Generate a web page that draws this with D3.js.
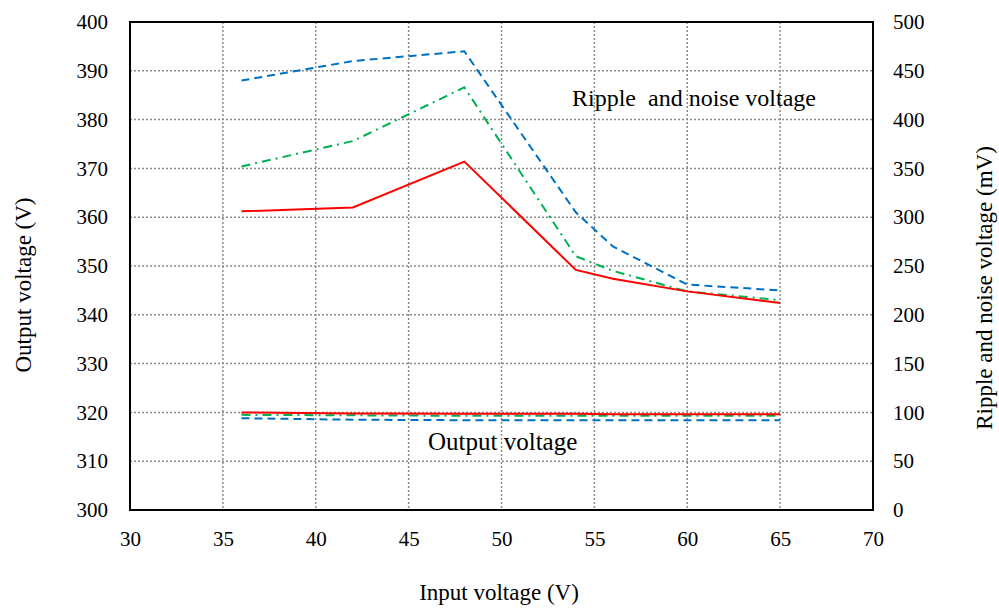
<!DOCTYPE html>
<html>
<head>
<meta charset="utf-8">
<script src="https://cdn.jsdelivr.net/npm/d3@7"></script>
<style>
  html, body { margin: 0; padding: 0; background: #fff; }
  svg { display: block; }
  svg text { font-family: "Liberation Serif", "Times New Roman", serif !important; fill: #000; }
</style>
</head>
<body>
<svg id="chart" width="999" height="608"></svg>
<script>
// Input voltage (V) measurement points
const inputVoltage = [36, 42, 48, 54, 56, 60, 65];

// Ripple and noise voltage (mV), right axis
const rippleRed   = [306, 310, 357, 246, 237, 224, 212];
const rippleGreen = [352, 378, 433, 260, 245, 224, 215];
const rippleBlue  = [440, 460, 470, 305, 270, 231, 225];

// Output voltage (V), left axis
const outRed   = [320.0, 319.8, 319.7, 319.7, 319.6, 319.6, 319.6];
const outGreen = [319.5, 319.4, 319.3, 319.3, 319.3, 319.3, 319.3];
const outBlue  = [318.8, 318.5, 318.4, 318.4, 318.4, 318.4, 318.4];

const xTicks = [30, 35, 40, 45, 50, 55, 60, 65, 70];
const yLeftTicks = [300, 310, 320, 330, 340, 350, 360, 370, 380, 390, 400];
const yRightTicks = [0, 50, 100, 150, 200, 250, 300, 350, 400, 450, 500];

const serif = '"Liberation Serif", "Times New Roman", serif';
const svg = d3.select("#chart");
const plot = { left: 130, right: 873, top: 22, bottom: 510 };

const x = d3.scaleLinear().domain([30, 70]).range([plot.left, plot.right]);
const yL = d3.scaleLinear().domain([300, 400]).range([plot.bottom, plot.top]);
const yR = d3.scaleLinear().domain([0, 500]).range([plot.bottom, plot.top]);

// grid
const grid = svg.append("g").attr("stroke", "#8a8a8a").attr("stroke-width", 1.5)
  .attr("stroke-dasharray", "2,2");
xTicks.slice(1, -1).forEach(v => {
  grid.append("line").attr("x1", x(v)).attr("x2", x(v))
    .attr("y1", plot.top).attr("y2", plot.bottom);
});
yLeftTicks.slice(1, -1).forEach(v => {
  grid.append("line").attr("x1", plot.left).attr("x2", plot.right)
    .attr("y1", yL(v)).attr("y2", yL(v));
});

// axes (labels only; frame drawn separately)
const fs = 21;
const axX = svg.append("g").attr("transform", `translate(0,${plot.bottom})`)
  .call(d3.axisBottom(x).tickValues(xTicks).tickSize(0).tickPadding(21));
const axL = svg.append("g").attr("transform", `translate(${plot.left},0)`)
  .call(d3.axisLeft(yL).tickValues(yLeftTicks).tickSize(0).tickPadding(22));
const axR = svg.append("g").attr("transform", `translate(${plot.right},0)`)
  .call(d3.axisRight(yR).tickValues(yRightTicks).tickSize(0).tickPadding(20));
[axX, axL, axR].forEach(a => {
  a.attr("font-family", null).attr("font-size", null);
  a.select(".domain").remove();
  a.selectAll("text").style("font-size", fs + "px").style("font-family", serif);
});

// frame
svg.append("rect").attr("x", plot.left).attr("y", plot.top)
  .attr("width", plot.right - plot.left).attr("height", plot.bottom - plot.top)
  .attr("fill", "none").attr("stroke", "#000").attr("stroke-width", 2);

// series
const series = [
  { data: rippleBlue,  scale: yR, color: "#0070C0", dash: "8,5" },
  { data: rippleGreen, scale: yR, color: "#00B050", dash: "9,5,2,5" },
  { data: rippleRed,   scale: yR, color: "#FF0000", dash: null },
  { data: outBlue,     scale: yL, color: "#0070C0", dash: "8,5" },
  { data: outGreen,    scale: yL, color: "#00B050", dash: "9,5,2,5" },
  { data: outRed,      scale: yL, color: "#FF0000", dash: null },
];
series.forEach(s => {
  const line = d3.line().x((d, i) => x(inputVoltage[i])).y(d => s.scale(d));
  svg.append("path").datum(s.data).attr("d", line)
    .attr("fill", "none").attr("stroke", s.color).attr("stroke-width", 2)
    .attr("stroke-dasharray", s.dash);
});

// annotations
svg.append("text").attr("x", 572).attr("y", 106).style("font-size", "24px")
  .style("white-space", "pre").text("Ripple  and noise voltage");
svg.append("text").attr("x", 428).attr("y", 450).style("font-size", "25px")
  .text("Output voltage");

// axis titles
svg.append("text").attr("x", 499).attr("y", 600).attr("text-anchor", "middle")
  .style("font-size", "23px").text("Input voltage (V)");
svg.append("text").attr("transform", "translate(31,285) rotate(-90)")
  .attr("text-anchor", "middle").style("font-size", "23px").text("Output voltage (V)");
svg.append("text").attr("transform", "translate(992,288) rotate(-90)")
  .attr("text-anchor", "middle").style("font-size", "23px").text("Ripple and noise voltage (mV)");
</script>
</body>
</html>
